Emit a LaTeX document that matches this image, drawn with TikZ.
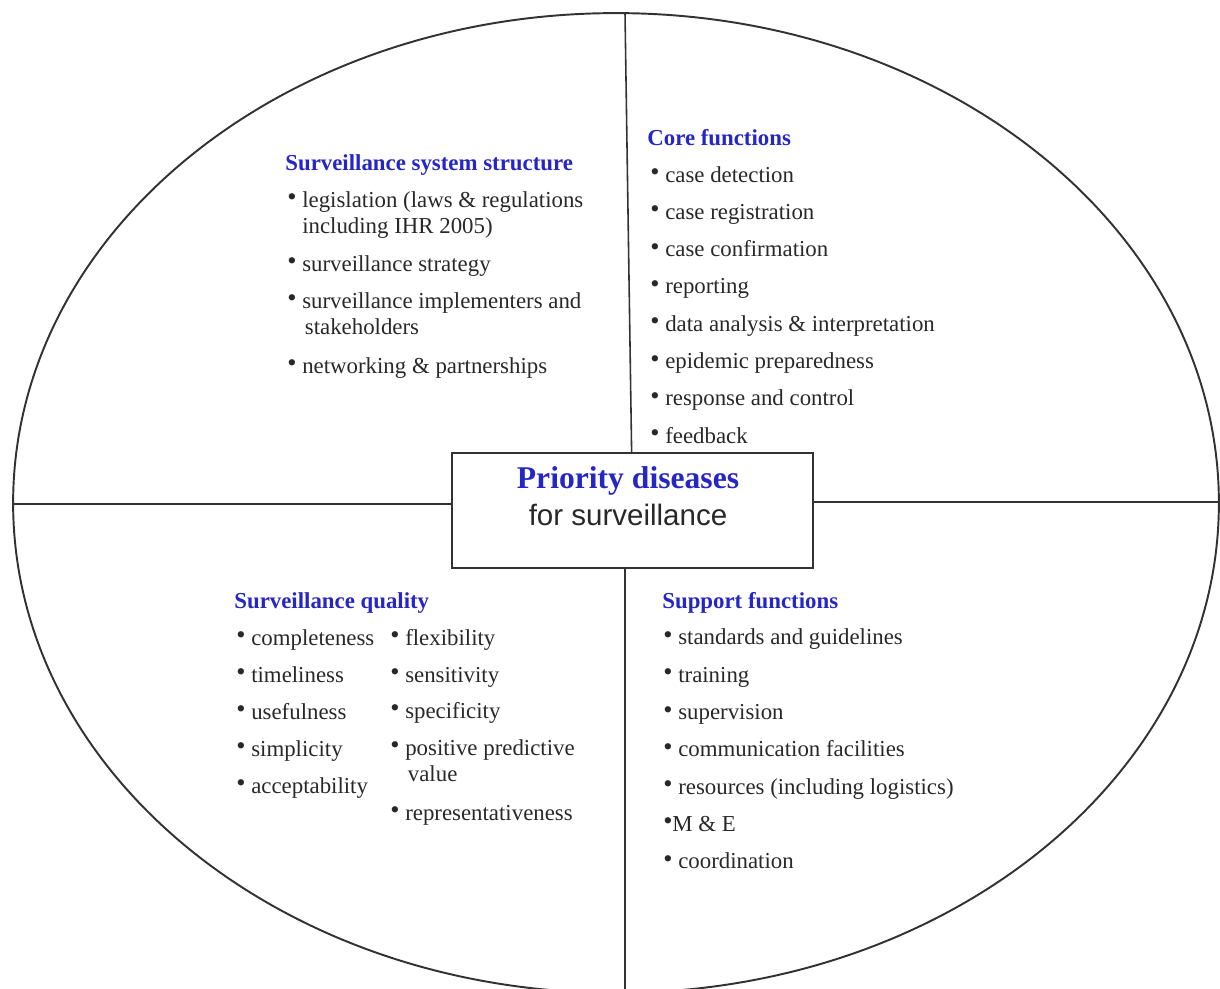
\documentclass[tikz,border=0pt]{standalone}
\usepackage{fontspec}
\setmainfont{Liberation Serif}
\newfontfamily\arialfont{Liberation Sans}
\usetikzlibrary{positioning}

\definecolor{headblue}{RGB}{38,38,196}
\definecolor{bodygray}{RGB}{40,40,40}
\definecolor{linegray}{RGB}{50,50,50}

\newcommand{\bodyfont}{\fontsize{13}{15}\selectfont}
\newcommand{\bul}[1][8.5pt]{\makebox[#1][l]{\raisebox{0.8pt}{\fontsize{15}{15}\selectfont\textbullet}}}
\newcommand{\lines}[1]{\begin{tabular}[t]{@{}l@{}}#1\end{tabular}}

\tikzset{
  rim/.style={draw=linegray, line width=1.1pt},
  divider/.style={draw=linegray, line width=0.9pt},
  prio/.style={draw=linegray, line width=1.1pt, minimum width=7.22cm, minimum height=2.3cm, inner sep=0pt},
  head/.style={anchor=base west, inner sep=0pt, font=\bodyfont\bfseries, text=headblue},
  entry/.style={anchor=base west, inner sep=0pt, font=\bodyfont, text=bodygray},
}

\begin{document}
\begin{tikzpicture}[x=0.02cm,y=-0.02cm]
  \useasboundingbox (0,0) rectangle (1220,988);

  % oval and centre box
  \draw[rim] (616,503) ellipse [x radius=12.06cm, y radius=9.8cm];
  \node[prio] (P) at (632.5,510.5) {};
  \node[anchor=base, inner sep=0pt, text=headblue, font=\fontsize{18}{20}\selectfont\bfseries]
    (Pt) at (628,488) {Priority diseases};
  \node[anchor=base, inner sep=0pt, text=bodygray, font=\arialfont\fontsize{16.8}{19}\selectfont]
    (Ps) at (628,525) {for surveillance};

  % quadrant dividers
  \coordinate (N) at (625,13);
  \coordinate (S) at (625,990);
  \coordinate (W) at (13,504);
  \coordinate (E) at (1219,502);
  \path[divider]
    (N) edge (P)
    (S) edge (P.south -| S)
    (W) edge (P.west |- W)
    (E) edge (P.east |- E);

  % structure
  \node[head] (H1) at (285,170) {Surveillance system structure};
  \foreach \y/\t [count=\i] in {
      207/{legislation (laws \& regulations\\\hspace*{8.5pt}including IHR 2005)},
      271/{surveillance strategy},
      308/{surveillance implementers and\\\hspace*{10pt}stakeholders},
      373/{networking \& partnerships}}
    \node[entry] (A\i) at (287,\y) {\lines{\bul\t}};

  % core functions
  \node[head] (H2) at (647,145) {Core functions};
  \foreach \t [count=\i] in {case detection, case registration, case confirmation,
      reporting, data analysis \& interpretation, epidemic preparedness,
      response and control, feedback}
    \node[entry] (B\i) at (650,{144.7+37.3*\i}) {\lines{\bul\t}};

  % quality
  \node[head] (H3) at (234,608) {Surveillance quality};
  \foreach \t [count=\i] in {completeness, timeliness, usefulness, simplicity, acceptability}
    \node[entry] (C\i) at (236,{608+37*\i}) {\lines{\bul\t}};
  \foreach \y/\t [count=\i] in {
      645/{flexibility}, 682/{sensitivity}, 718/{specificity},
      755/{positive predictive\\\hspace*{10pt}value},
      820/{representativeness}}
    \node[entry] (D\i) at (390,\y) {\lines{\bul\t}};

  % support functions
  \node[head] (H4) at (662,608) {Support functions};
  \foreach \t [count=\i] in {{\bul standards and guidelines}, {\bul training},
      {\bul supervision}, {\bul communication facilities},
      {\bul resources (including logistics)}, {\bul[5.2pt]M \& E}, {\bul coordination}}
    \node[entry] (F\i) at (663,{607.5+37.3*\i}) {\lines{\t}};
\end{tikzpicture}
\end{document}
